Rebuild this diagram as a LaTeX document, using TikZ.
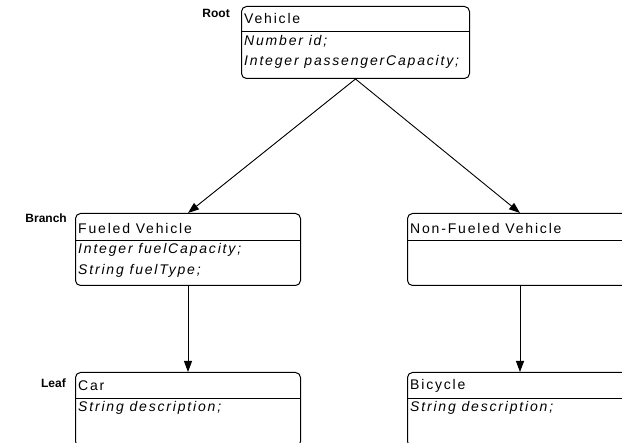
\documentclass[tikz,border=0pt]{standalone}
\usepackage{fontspec}
\setmainfont{Liberation Sans}
\usetikzlibrary{arrows.meta}
\begin{document}
\begin{tikzpicture}[x=1pt,y=-1pt,
  box/.style={draw=black,line width=1pt,rounded corners=5pt,anchor=north west,inner sep=0pt},
  title/.style={anchor=west,inner sep=0pt,font=\fontsize{14}{16}\selectfont\addfontfeature{LetterSpace=13}},
  attr/.style={anchor=west,inner sep=0pt,font=\fontsize{14}{16}\selectfont\itshape\addfontfeature{LetterSpace=13}},
  lvl/.style={anchor=east,inner sep=0pt,font=\fontsize{12}{14}\selectfont\bfseries},
  conn/.style={draw=black,line width=0.9pt,-{Triangle[length=11pt,width=8pt]}},
  div/.style={draw=black,line width=0.9pt}]
\useasboundingbox (0,0) rectangle (622,443);
\clip (0,0) rectangle (622,443);
% boxes
\node[box,minimum width=228pt,minimum height=72pt] (root) at (241,6) {};
\node[box,minimum width=225pt,minimum height=72pt] (fueled) at (75,213) {};
\node[box,minimum width=225pt,minimum height=72pt] (nonfueled) at (407,213) {};
\node[box,minimum width=225pt,minimum height=74pt] (car) at (75,372) {};
\node[box,minimum width=225pt,minimum height=74pt] (bicycle) at (407,372) {};
% dividers
\coordinate (rd1) at (241,31); \coordinate (rd2) at (469,31);
\draw[div] (rd1) -- (rd2);
\coordinate (fd1) at (75,240); \coordinate (fd2) at (300,240);
\draw[div] (fd1) -- (fd2);
\coordinate (nd1) at (407,240); \coordinate (nd2) at (622,240);
\draw[div] (nd1) -- (nd2);
\coordinate (cd1) at (75,398); \coordinate (cd2) at (300,398);
\draw[div] (cd1) -- (cd2);
\coordinate (bd1) at (407,398); \coordinate (bd2) at (622,398);
\draw[div] (bd1) -- (bd2);
% texts
\node[title] (t1) at (244,18.5) {Vehicle};
\node[attr] (a1) at (244,41.5) {Number id;};
\node[attr] (a2) at (244,62) {Integer passengerCapacity;};
\node[title] (t2) at (78,228.5) {Fueled Vehicle};
\node[attr] (a3) at (78,250) {Integer fuelCapacity;};
\node[attr] (a4) at (78,271) {String fuelType;};
\node[title] (t3) at (410,228.5) {Non-Fueled Vehicle};
\node[title] (t4) at (78,386) {Car};
\node[attr] (a5) at (78,408) {String description;};
\node[title] (t5) at (410,386) {Bicycle};
\node[attr] (a6) at (410,408) {String description;};
% level labels
\node[lvl] (lroot) at (230,13.5) {Root};
\node[lvl] (lbranch) at (67,218) {Branch};
\node[lvl] (lleaf) at (66,383) {Leaf};
% connectors
\draw[conn] (root.south) -- (fueled.north);
\draw[conn] (root.south) -- (nonfueled.north);
\draw[conn] (fueled.south) -- (car.north);
\draw[conn] (nonfueled.south) -- (bicycle.north);
\end{tikzpicture}
\end{document}
